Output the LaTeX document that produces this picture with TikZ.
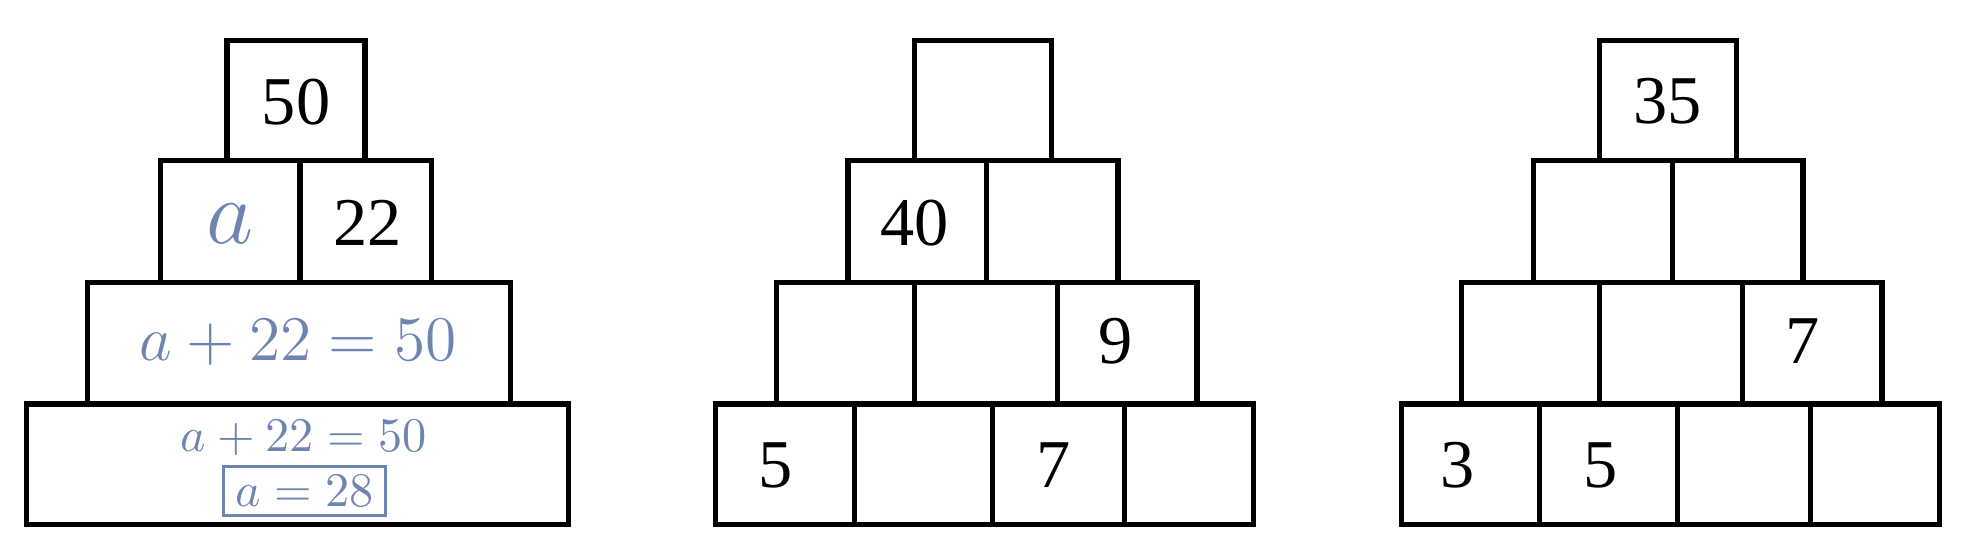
\documentclass[tikz,border=0pt]{standalone}
\usepackage{fontspec}
\newfontfamily\numfont{Liberation Serif}
\usetikzlibrary{fit}
\definecolor{eqblue}{RGB}{110,132,178}
\tikzset{
  cellbox/.style={draw=black, line width=1.2pt, inner sep=0pt, outer sep=0pt},
  num/.style={inner sep=0pt, font=\numfont\fontsize{15.5}{18}\selectfont},
  bigvar/.style={inner sep=0pt, text=eqblue, font=\fontsize{21}{24}\selectfont},
  eqmid/.style={inner sep=0pt, text=eqblue, font=\fontsize{14.5}{17}\selectfont},
  eqsmall/.style={inner sep=0pt, text=eqblue, font=\fontsize{11}{13}\selectfont},
  ansbox/.style={draw=eqblue, line width=0.7pt, inner sep=0pt, minimum width=1.29cm, minimum height=0.39cm, text=eqblue, font=\fontsize{11}{13}\selectfont}
}
\newcommand{\mycell}[5]{\node[cellbox, fit={(#2,#3) (#4,#5)}] (#1) {};}
\begin{document}
\begin{tikzpicture}[x=0.01cm,y=-0.01cm]
\useasboundingbox (0,0) rectangle (1567,433.6);
% ---------- Pyramid 1 ----------
\mycell{pA1}{181}{32}{291}{128}
\mycell{pA21}{128}{128}{239}{225}
\mycell{pA22}{239}{128}{344}{225}
\mycell{pA3}{70}{225}{407}{322}
\mycell{pA4}{21}{322}{453}{418}
\node[num] (tA1) at (236,81) {50};
\node[bigvar] (tA21) at (183,178) {$a$};
\node[num] (tA22) at (293,178) {22};
\node[eqmid] (tA3) at (238,273) {$a+22=50$};
\node[eqsmall] (tA41) at (242,349) {$a+22=50$};
\node[ansbox] (tA42) at (242.5,391.5) {$a=28$};
% ---------- Pyramid 2 ----------
\mycell{pB1}{729}{32}{838}{128}
\mycell{pB21}{676}{128}{786}{225}
\mycell{pB22}{786}{128}{891}{225}
\mycell{pB31}{619}{225}{729}{322}
\mycell{pB32}{729}{225}{843}{322}
\mycell{pB33}{843}{225}{954}{322}
\mycell{pB41}{570}{322}{681}{418}
\mycell{pB42}{681}{322}{791}{418}
\mycell{pB43}{791}{322}{896}{418}
\mycell{pB44}{896}{322}{999}{418}
\node[num] (tB21) at (729,178) {40};
\node[num] (tB33) at (889,272) {9};
\node[num] (tB41) at (618,371) {5};
\node[num] (tB43) at (840,371) {7};
% ---------- Pyramid 3 ----------
\mycell{pC1}{1275}{32}{1384}{128}
\mycell{pC21}{1222}{128}{1333}{225}
\mycell{pC22}{1333}{128}{1437}{225}
\mycell{pC31}{1165}{225}{1275}{322}
\mycell{pC32}{1275}{225}{1389}{322}
\mycell{pC33}{1389}{225}{1500}{322}
\mycell{pC41}{1117}{322}{1227}{418}
\mycell{pC42}{1227}{322}{1337}{418}
\mycell{pC43}{1337}{322}{1443}{418}
\mycell{pC44}{1443}{322}{1546}{418}
\node[num] (tC1) at (1329,81) {35};
\node[num] (tC33) at (1437,272) {7};
\node[num] (tC41) at (1162,371) {3};
\node[num] (tC42) at (1276,371) {5};
\end{tikzpicture}
\end{document}
